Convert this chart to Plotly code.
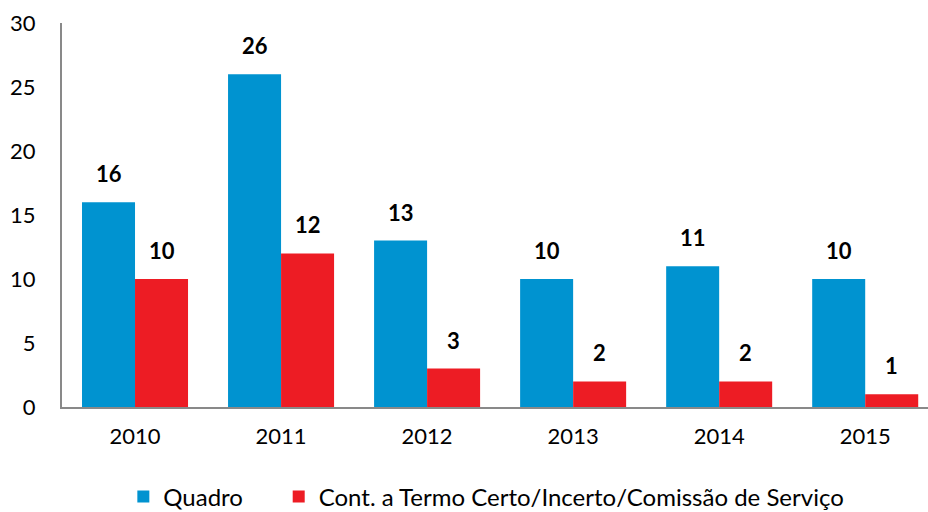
import plotly.graph_objects as go

years = ["2010", "2011", "2012", "2013", "2014", "2015"]
quadro = [16, 26, 13, 10, 11, 10]
contratos = [10, 12, 3, 2, 2, 1]
y_ticks = [0, 5, 10, 15, 20, 25, 30]

BLUE = "#0093D0"
RED = "#ED1C24"
FONT = "Lato"

fig = go.Figure()
fig.add_trace(go.Bar(x=years, y=quadro, name="Quadro" + "\u00a0" * 5,
                     marker=dict(color=BLUE, line=dict(width=0))))
fig.add_trace(go.Bar(x=years, y=contratos, name="Cont. a Termo Certo/Incerto/Comissão de Serviço",
                     marker=dict(color=RED, line=dict(width=0))))

for i, yr in enumerate(years):
    for val, shift in ((quadro[i], -26.5), (contratos[i], 26.5)):
        fig.add_annotation(x=i, y=val, xref="x", yref="y", text="<b>" + str(val) + "</b>",
                           showarrow=False, xshift=shift, yanchor="bottom", yshift=13,
                           font=dict(family=FONT, size=22, color="black"))

fig.update_layout(
    width=928, height=512,
    margin=dict(l=62, r=0, t=23, b=105, autoexpand=False),
    plot_bgcolor="white", paper_bgcolor="white",
    barmode="group", bargap=0.274, bargroupgap=0,
    font=dict(family=FONT, size=22, color="black"),
    showlegend=True,
    legend=dict(orientation="h", x=0.49, xanchor="center", y=-0.234, yanchor="middle",
                font=dict(family=FONT, size=24)),
    xaxis=dict(type="category", range=[-0.5, 5.43], showline=True, linecolor="#898989", linewidth=2,
               showgrid=False, ticks="", ticklabelstandoff=9, zeroline=False),
    yaxis=dict(range=[0, 30], tickvals=y_ticks, showline=True, linecolor="#898989", linewidth=2,
               showgrid=False, ticks="", ticklabelstandoff=20, zeroline=False),
)

fig.write_html("out.html", config={"displayModeBar": False},
               post_script="document.body.style.margin='0';")
